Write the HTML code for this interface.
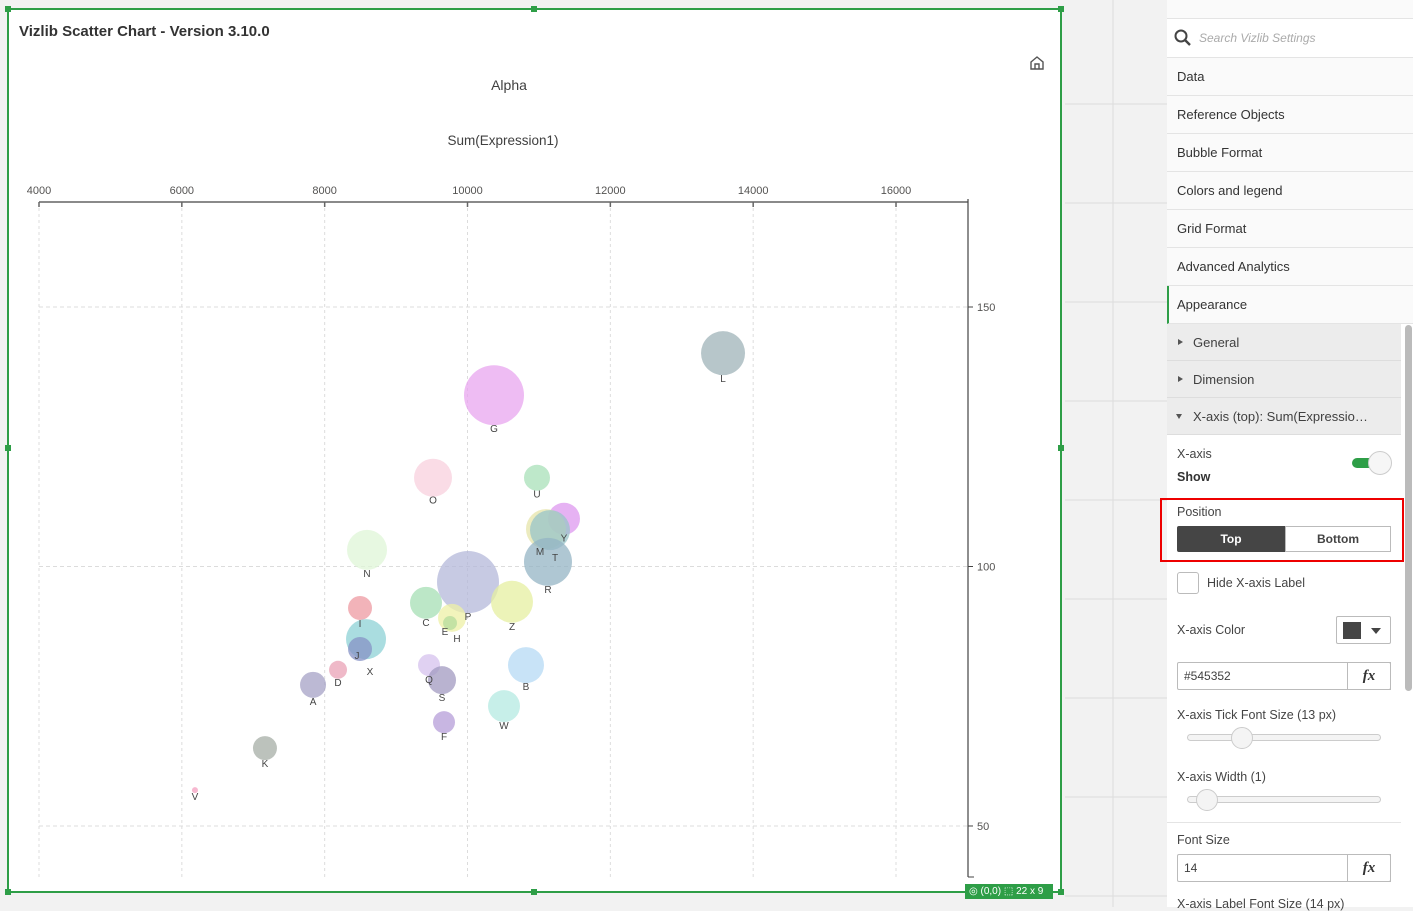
<!DOCTYPE html>
<html><head><meta charset="utf-8">
<style>
*{box-sizing:border-box;margin:0;padding:0}
body{width:1413px;height:907px;overflow:hidden;background:#f2f2f2;font-family:"Liberation Sans",sans-serif;position:relative;color:#404040}
.abs{position:absolute}
.row{position:absolute;left:1167px;width:246px;height:38px;border-bottom:1px solid #e4e4e4;background:#fafafa;font-size:13px;line-height:37px;padding-left:10px;color:#333}
.sub{position:absolute;left:1167px;width:234px;height:37px;border-bottom:1px solid #ddd;background:#ececec;font-size:13px;line-height:37px;padding-left:26px;color:#404040}
.sub:before{content:"";position:absolute;left:11px;top:15px;border-left:5px solid #555;border-top:3.5px solid transparent;border-bottom:3.5px solid transparent}
.sub.open:before{left:9px;top:16px;border-top:5px solid #555;border-left:3.5px solid transparent;border-right:3.5px solid transparent;border-bottom:0}
.lbl{position:absolute;left:1177px;font-size:12.5px;color:#444}
</style></head><body>
<svg class="abs" style="left:0;top:0" width="1413" height="907">
<g stroke="#dcdcdc" stroke-width="1">
<line x1="1113" y1="0" x2="1113" y2="907"/>
<line x1="1065" y1="104" x2="1167" y2="104"/><line x1="1065" y1="203" x2="1167" y2="203"/><line x1="1065" y1="302" x2="1167" y2="302"/><line x1="1065" y1="401" x2="1167" y2="401"/><line x1="1065" y1="500" x2="1167" y2="500"/><line x1="1065" y1="599" x2="1167" y2="599"/><line x1="1065" y1="698" x2="1167" y2="698"/><line x1="1065" y1="797" x2="1167" y2="797"/><line x1="1065" y1="896" x2="1167" y2="896"/>
</g></svg>

<div class="abs" style="left:7px;top:8px;width:1055px;height:885px;background:#fff;border:2px solid #2e9e47"></div>
<div class="abs" style="left:5px;top:6px;width:6px;height:6px;background:#2e9e47"></div>
<div class="abs" style="left:531px;top:6px;width:6px;height:6px;background:#2e9e47"></div>
<div class="abs" style="left:1058px;top:6px;width:6px;height:6px;background:#2e9e47"></div>
<div class="abs" style="left:5px;top:445px;width:6px;height:6px;background:#2e9e47"></div>
<div class="abs" style="left:1058px;top:445px;width:6px;height:6px;background:#2e9e47"></div>
<div class="abs" style="left:5px;top:889px;width:6px;height:6px;background:#2e9e47"></div>
<div class="abs" style="left:531px;top:889px;width:6px;height:6px;background:#2e9e47"></div>
<div class="abs" style="left:1058px;top:889px;width:6px;height:6px;background:#2e9e47"></div>
<div class="abs" style="left:965px;top:884px;width:88px;height:15px;background:#2e9e47;color:#fff;font-size:10px;line-height:15px;padding-left:4px">◎ (0,0) ⬚ 22 x 9</div>

<div class="abs" style="left:19px;top:23px;font-size:15px;font-weight:bold;color:#333">Vizlib Scatter Chart - Version 3.10.0</div>
<svg class="abs" style="left:1029px;top:55px" width="16" height="16"><path d="M2 7 L8 2 L14 7 V14 H2 Z M6 14 V9 H10 V14" fill="none" stroke="#555" stroke-width="1.4"/></svg>

<svg id="chart" class="abs" style="left:0;top:0" width="1065" height="900"></svg>

<!-- right panel -->
<div class="abs" style="left:1167px;top:0;width:246px;height:907px;background:#fff"></div>
<div class="abs" style="left:1167px;top:0;width:246px;height:19px;background:#fafafa;border-bottom:1px solid #e4e4e4"></div>
<div class="abs" style="left:1167px;top:19px;width:246px;height:39px;border-bottom:1px solid #e4e4e4;background:#fff">
<svg class="abs" style="left:7px;top:10px" width="18" height="18"><circle cx="7" cy="7" r="5.5" fill="none" stroke="#444" stroke-width="2"/><line x1="11" y1="11" x2="16" y2="16" stroke="#444" stroke-width="2.4"/></svg>
<span class="abs" style="left:32px;top:12px;font-size:12px;font-style:italic;color:#aaa">Search Vizlib Settings</span></div>
<div class="row" style="top:58px">Data</div>
<div class="row" style="top:96px">Reference Objects</div>
<div class="row" style="top:134px">Bubble Format</div>
<div class="row" style="top:172px">Colors and legend</div>
<div class="row" style="top:210px">Grid Format</div>
<div class="row" style="top:248px">Advanced Analytics</div>
<div class="row" style="top:286px;border-left:2px solid #2e9e47;padding-left:8px">Appearance</div>
<div class="sub" style="top:324px">General</div>
<div class="sub" style="top:361px">Dimension</div>
<div class="sub open" style="top:398px">X-axis (top): Sum(Expressio…</div>
<div class="abs" style="left:1405px;top:325px;width:7px;height:366px;background:#bbb;border-radius:4px"></div>

<div class="lbl" style="top:447px">X-axis</div>
<div class="lbl" style="top:470px;font-weight:bold;color:#333">Show</div>
<div class="abs" style="left:1352px;top:458px;width:30px;height:10px;background:#2e9e47;border-radius:5px"></div>
<div class="abs" style="left:1368px;top:451px;width:24px;height:24px;background:#f6f6f6;border:1px solid #ccc;border-radius:50%"></div>

<div class="abs" style="left:1160px;top:498px;width:244px;height:64px;border:2.5px solid #e00"></div>
<div class="lbl" style="top:505px">Position</div>
<div class="abs" style="left:1177px;top:526px;width:108px;height:26px;background:#454545;color:#fff;font-size:12px;font-weight:bold;text-align:center;line-height:26px;border-radius:2px 0 0 2px">Top</div>
<div class="abs" style="left:1285px;top:526px;width:106px;height:26px;background:#fff;border:1px solid #bbb;color:#444;font-size:12px;font-weight:bold;text-align:center;line-height:24px">Bottom</div>

<div class="abs" style="left:1177px;top:572px;width:22px;height:22px;border:1px solid #bbb;border-radius:3px;background:#fff"></div>
<div class="abs" style="left:1207px;top:576px;font-size:12.5px;color:#444">Hide X-axis Label</div>

<div class="lbl" style="top:623px">X-axis Color</div>
<div class="abs" style="left:1336px;top:616px;width:55px;height:28px;border:1px solid #bbb;border-radius:2px;background:#fff">
<div class="abs" style="left:6px;top:5px;width:18px;height:17px;background:#454545"></div>
<div class="abs" style="left:34px;top:11px;border-top:6px solid #444;border-left:5px solid transparent;border-right:5px solid transparent"></div></div>
<div class="abs" style="left:1177px;top:662px;width:214px;height:28px;border:1px solid #bbb;border-radius:2px;background:#fff;font-size:12px;line-height:26px;padding-left:6px">#545352</div>
<div class="abs" style="left:1347px;top:662px;width:44px;height:28px;border:1px solid #bbb;font-family:'Liberation Serif',serif;font-style:italic;font-weight:bold;font-size:15px;text-align:center;line-height:26px;color:#333">fx</div>

<div class="lbl" style="top:708px">X-axis Tick Font Size (13 px)</div>
<div class="abs" style="left:1187px;top:734px;width:194px;height:7px;border:1px solid #ccc;border-radius:4px;background:#f4f4f4"></div>
<div class="abs" style="left:1231px;top:727px;width:22px;height:22px;border:1px solid #ccc;border-radius:50%;background:#f4f4f4"></div>
<div class="lbl" style="top:770px">X-axis Width (1)</div>
<div class="abs" style="left:1187px;top:796px;width:194px;height:7px;border:1px solid #ccc;border-radius:4px;background:#f4f4f4"></div>
<div class="abs" style="left:1196px;top:789px;width:22px;height:22px;border:1px solid #ccc;border-radius:50%;background:#f4f4f4"></div>
<div class="abs" style="left:1167px;top:822px;width:234px;height:1px;background:#e4e4e4"></div>
<div class="lbl" style="top:833px">Font Size</div>
<div class="abs" style="left:1177px;top:854px;width:214px;height:28px;border:1px solid #bbb;border-radius:2px;background:#fff;font-size:12px;line-height:26px;padding-left:6px">14</div>
<div class="abs" style="left:1347px;top:854px;width:44px;height:28px;border:1px solid #bbb;font-family:'Liberation Serif',serif;font-style:italic;font-weight:bold;font-size:15px;text-align:center;line-height:26px;color:#333">fx</div>
<div class="lbl" style="top:897px">X-axis Label Font Size (14 px)</div>

<script>
const labels = ["L","G","O","U","N","Y","M","T","R","P","Z","C","E","H","I","X","J","D","A","Q","S","B","W","F","K","V"];
const xValues = [13578,10371,9517,10973,8593,11351,11099,11155,11127,10007,10623,9419,9783,9755,8495,8579,8495,8187,7837,9461,9643,10819,10511,9671,7164,6184];
const yValues = [141.1,133.0,117.1,117.1,103.2,109.2,107.2,107.0,100.9,97.0,93.2,93.0,90.1,89.1,92.0,86.0,84.1,80.1,77.2,81.0,78.1,81.0,73.1,70.0,65.0,56.9];
const sizes = [484,900,361,169,400,256,400,400,576,961,441,256,196,49,144,400,144,81,169,121,196,324,256,121,144,9];
const colors = ["#9fb3b8","#e8a6ef","#f8d0de","#a8e0b8","#dff5d7","#dd98ef","#e6e4aa","#98c4c8","#94b4c4","#b4b8da","#e6efa0","#a6dfb4","#eef0a6","#b4dc9c","#ee9aa2","#8ed2d6","#8692c6","#eaa2b6","#a6a2c6","#d6c2ee","#a29ac0","#b6daf4","#b4eae2","#b69ed8","#a6aea6","#f4a0c0"];
const xTicks = [4000,6000,8000,10000,12000,14000,16000];
const yTicks = [50,100,150];

const X0=39, X1=968, Y0=202, Y1=877;
const xMin=4000, xMax=17008, yMin=40.17, yMax=170.23;
const xs = v => X0 + (v-xMin)/(xMax-xMin)*(X1-X0);
const ys = v => Y1 - (v-yMin)/(yMax-yMin)*(Y1-Y0);
const rs = s => Math.sqrt(s);
// label collision nudges (style only)
const nudge = {T:[5,4],M:[-6,-1],X:[4,9],J:[-3,-9],E:[-7,-4],H:[7,5]};
const NS="http://www.w3.org/2000/svg";
const svg=document.getElementById('chart');
function mk(t,a,p){const e=document.createElementNS(NS,t);for(const k in a)e.setAttribute(k,a[k]);(p||svg).appendChild(e);return e;}

const grid=mk('g',{});


xTicks.forEach(t=>{const l=mk('line',{x1:xs(t),x2:xs(t),y1:Y0,y2:Y1,stroke:'#dcdcdc','stroke-dasharray':'3,3'},grid);

});
yTicks.forEach(t=>{const l=mk('line',{x1:X0,x2:X1,y1:ys(t),y2:ys(t),stroke:'#dcdcdc','stroke-dasharray':'4,3'},grid);

});

const t1=mk('text',{x:509,y:90,'text-anchor':'middle','font-size':14,fill:'#404040'});t1.textContent='Alpha';


const t2=mk('text',{x:503,y:145,'text-anchor':'middle','font-size':13.5,fill:'#404040'});t2.textContent='Sum(Expression1)';



const xa=mk('line',{x1:X0,x2:X1,y1:Y0,y2:Y0,stroke:'#8a8a8a','stroke-width':2});


xTicks.forEach(t=>{mk('line',{x1:xs(t),x2:xs(t),y1:Y0,y2:Y0+5,stroke:'#666','stroke-width':1.5});
const tx=mk('text',{x:xs(t),y:Y0-8,'text-anchor':'middle','font-size':11,fill:'#545352'});tx.textContent=t;

});
const ya=mk('line',{x1:X1,x2:X1,y1:Y0-3,y2:Y1,stroke:'#444','stroke-width':1.2});


mk('line',{x1:X1,x2:X1+6,y1:Y1,y2:Y1,stroke:'#444'});
yTicks.forEach(t=>{mk('line',{x1:X1,x2:X1+5,y1:ys(t),y2:ys(t),stroke:'#444'});
const tx=mk('text',{x:X1+9,y:ys(t)+4,'font-size':11,fill:'#545352'});tx.textContent=t;

});

labels.forEach((lab,i)=>{
  const cx=xs(xValues[i]), cy=ys(yValues[i]), r=rs(sizes[i]);
  const c=mk('circle',{cx:cx,cy:cy,r:r,fill:colors[i],'fill-opacity':0.75});
  
  
});
labels.forEach((lab,i)=>{
  const cx=xs(xValues[i]), cy=ys(yValues[i]), r=rs(sizes[i]);
  const n=nudge[lab]||[0,0];
  const tx=mk('text',{x:cx+n[0],y:cy+r+7+n[1],'text-anchor':'middle','font-size':10,fill:'#444'});
  tx.textContent=lab;
  
  
});
</script>
</body></html>
